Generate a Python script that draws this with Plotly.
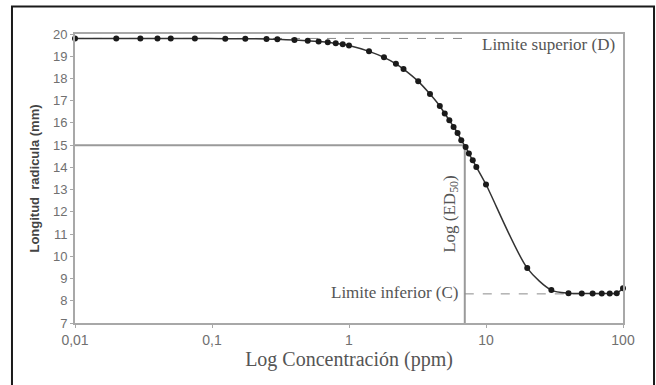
import plotly.graph_objects as go

# Data
conc = [0.01, 0.02, 0.03, 0.04, 0.05, 0.075, 0.125, 0.175, 0.25, 0.3, 0.4, 0.5, 0.6,
        0.7, 0.8, 0.9, 1.0, 1.4, 1.8, 2.2, 2.5, 3.2, 3.9, 4.6, 5.0, 5.4, 5.8, 6.2,
        6.6, 7.1, 7.5, 8.0, 8.5, 10, 20, 30, 40, 50, 60, 70, 80, 90, 100]
length = [19.80, 19.80, 19.80, 19.80, 19.80, 19.80, 19.79, 19.79, 19.77, 19.76, 19.73,
          19.70, 19.66, 19.63, 19.58, 19.54, 19.48, 19.22, 18.95, 18.66, 18.42, 17.87,
          17.30, 16.76, 16.42, 16.12, 15.82, 15.55, 15.22, 14.92, 14.62, 14.32, 14.02,
          13.23, 9.47, 8.48, 8.34, 8.33, 8.33, 8.33, 8.33, 8.34, 8.56]
upper_D = 19.80
lower_C = 8.31
ed50 = 7.0
y_ed50 = 15.0
x_tickvals = [0.01, 0.1, 1, 10, 100]
x_ticktext = ["0,01", "0,1", "1", "10", "100"]
y_tickvals = list(range(7, 21))

fig = go.Figure()

# reference lines
fig.add_trace(go.Scatter(x=[0.01, ed50], y=[y_ed50, y_ed50], mode="lines",
                         line=dict(color="#9a9a9a", width=2), hoverinfo="skip"))
fig.add_trace(go.Scatter(x=[ed50, ed50], y=[7, y_ed50], mode="lines",
                         line=dict(color="#9a9a9a", width=2), hoverinfo="skip"))
fig.add_trace(go.Scatter(x=[0.01, 7.6], y=[upper_D, upper_D], mode="lines",
                         line=dict(color="#8a8a8a", width=1, dash="dash"), hoverinfo="skip"))
fig.add_trace(go.Scatter(x=[ed50, 100], y=[lower_C, lower_C], mode="lines",
                         line=dict(color="#8a8a8a", width=1, dash="dash"), hoverinfo="skip"))

# curve + points
fig.add_trace(go.Scatter(x=conc, y=length, mode="lines+markers", cliponaxis=False,
                         line=dict(color="#333333", width=1.5, shape="spline", smoothing=0.8),
                         marker=dict(color="#1a1a1a", size=6, symbol="circle")))

fig.add_annotation(x=2, y=upper_D, xref="x", yref="y", text="Limite superior (D)",
                   showarrow=False, xanchor="right", yanchor="middle", xshift=-6, yshift=-6,
                   font=dict(family="Liberation Serif", size=17, color="#555555"))
fig.add_annotation(x=0.82, y=lower_C, xref="x", yref="y", text="Limite inferior (C)",
                   showarrow=False, xanchor="right", yanchor="middle", xshift=-1, yshift=1,
                   font=dict(family="Liberation Serif", size=17, color="#555555"))
fig.add_annotation(x=0.845, y=11.9, xref="x", yref="y", text="Log (ED<sub>50</sub>)",
                   showarrow=False, textangle=-90, xanchor="right", yanchor="middle",
                   xshift=-1,
                   font=dict(family="Liberation Serif", size=17, color="#555555"))

# outer frame
fig.add_shape(type="rect", xref="paper", yref="paper", x0=-0.115, x1=1.0566,
              y0=-0.25, y1=1.0953, line=dict(color="#1a1a1a", width=2), layer="above")

fig.update_layout(
    width=656, height=385,
    margin=dict(l=75, r=33, t=34, b=62),
    paper_bgcolor="white", plot_bgcolor="white",
    showlegend=False,
    xaxis=dict(type="log", range=[-2, 2], tickvals=x_tickvals, ticktext=x_ticktext,
               showgrid=False, zeroline=False, showline=True, mirror=True,
               linecolor="#a8a8a8", linewidth=2, ticks="outside", ticklen=3,
               tickcolor="#a8a8a8",
               tickfont=dict(family="Liberation Sans", size=14, color="#707070"),
               title=dict(text="Log Concentración (ppm)", standoff=4,
                          font=dict(family="Liberation Serif", size=20, color="#555555"))),
    yaxis=dict(range=[7, 20], tickvals=y_tickvals, showgrid=False, zeroline=False,
               showline=True, mirror=True, linecolor="#a8a8a8", linewidth=2,
               ticks="outside", ticklen=3, tickcolor="#a8a8a8",
               tickfont=dict(family="Liberation Sans", size=13, color="#707070"),
               title=dict(text="<b>Longitud  radicula (mm)</b>", standoff=10,
                          font=dict(family="Liberation Sans", size=13, color="#444444"))),
)

fig.write_html("out.html")
